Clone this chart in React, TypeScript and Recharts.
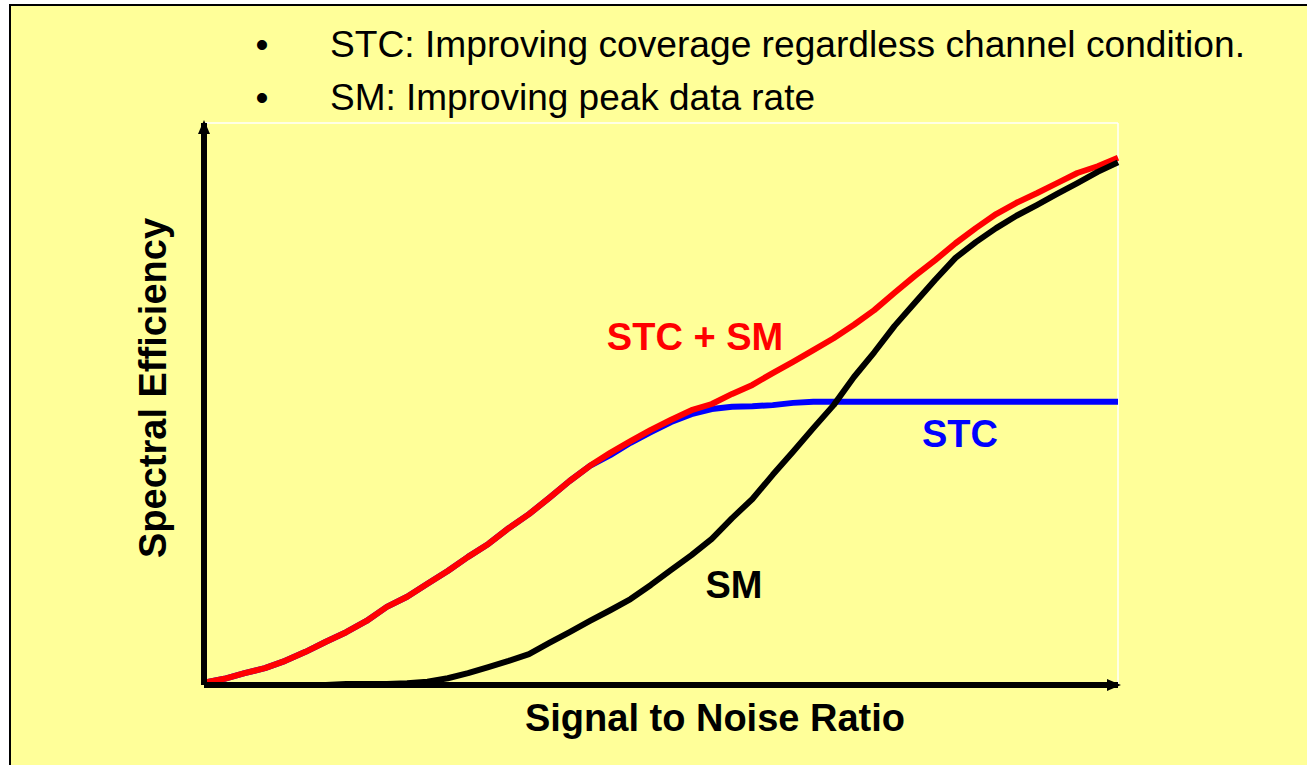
import React from 'react';
import { LineChart, Line, XAxis, YAxis, ReferenceLine } from 'recharts';

const snr = [
  0, 1, 2, 3, 4, 5, 6, 7, 8, 9, 10, 11, 12, 13, 14, 15, 16, 17, 18, 19, 20, 21, 22,
  23, 24, 25, 26, 27, 28, 29, 30, 31, 32, 33, 34, 35, 36, 37, 38, 39, 40, 41, 42, 43, 44, 45,
];

const stcSm = [
  0.04, 0.11, 0.21, 0.3, 0.43, 0.59, 0.77, 0.94, 1.14, 1.39, 1.57, 1.8, 2.03, 2.28, 2.51,
  2.79, 3.04, 3.33, 3.63, 3.9, 4.13, 4.34, 4.54, 4.72, 4.89, 5.0, 5.18, 5.34, 5.55, 5.75,
  5.96, 6.17, 6.41, 6.67, 6.98, 7.28, 7.56, 7.86, 8.13, 8.38, 8.58, 8.75, 8.93, 9.11, 9.23, 9.38,
];

const stc = [
  0.04, 0.11, 0.21, 0.3, 0.43, 0.59, 0.77, 0.94, 1.14, 1.39, 1.57, 1.8, 2.03, 2.28, 2.51,
  2.79, 3.04, 3.33, 3.63, 3.9, 4.09, 4.31, 4.5, 4.68, 4.82, 4.91, 4.95, 4.96, 4.98, 5.02,
  5.04, 5.04, 5.04, 5.04, 5.04, 5.04, 5.04, 5.04, 5.04, 5.04, 5.04, 5.04, 5.04, 5.04, 5.04, 5.04,
];

const sm = [
  0, 0, 0, 0, 0, 0, 0, 0.02, 0.02, 0.02, 0.03, 0.06, 0.12, 0.21, 0.32, 0.43, 0.55, 0.75,
  0.94, 1.14, 1.33, 1.53, 1.78, 2.05, 2.31, 2.6, 2.97, 3.31, 3.74, 4.15, 4.57, 4.98, 5.48,
  5.92, 6.39, 6.8, 7.21, 7.6, 7.88, 8.13, 8.35, 8.54, 8.74, 8.93, 9.13, 9.3,
];

const bullets = [
  'STC: Improving coverage regardless channel condition.',
  'SM: Improving peak data rate',
];

const data = snr.map((x, i) => ({ snr: x, stcSm: stcSm[i], stc: stc[i], sm: sm[i] }));

const font = '"Liberation Sans", Arial, sans-serif';

export default function App() {
  return (
    <div style={{ position: 'absolute', left: 0, top: 0, width: 1307, height: 765, overflow: 'hidden', background: '#fff' }}>
      <div
        style={{
          position: 'absolute',
          left: 9,
          top: 4,
          width: 1400,
          height: 900,
          border: '2px solid #000',
          background: '#FFFF99',
        }}
      />
      <svg width={0} height={0} style={{ position: 'absolute' }}>
        <defs>
          <marker
            id="arrow"
            markerUnits="userSpaceOnUse"
            markerWidth={14}
            markerHeight={12}
            viewBox="0 0 14 12"
            refX={11}
            refY={6}
            orient="auto-start-reverse"
          >
            <path d="M0,0 L14,6 L0,12 z" fill="#000" />
          </marker>
        </defs>
      </svg>
      <div style={{ position: 'absolute', left: 0, top: 0 }}>
        <LineChart width={1307} height={765} data={data} margin={{ top: 123, right: 189, bottom: 79, left: 203 }}>
          {/* thin white frame on the top and right edges of the plot */}
          <ReferenceLine y={10} stroke="#fff" strokeWidth={1.5} ifOverflow="visible" />
          <ReferenceLine x={45} stroke="#fff" strokeWidth={1.5} ifOverflow="visible" />
          <XAxis
            dataKey="snr"
            type="number"
            domain={[0, 45]}
            height={1}
            tick={false}
            tickLine={false}
            axisLine={{ stroke: '#000', strokeWidth: 6, markerEnd: 'url(#arrow)' }}
          />
          <YAxis
            type="number"
            domain={[0, 10]}
            width={1}
            tick={false}
            tickLine={false}
            axisLine={{ stroke: '#000', strokeWidth: 6, markerStart: 'url(#arrow)' }}
          />
          <Line type="linear" dataKey="stc" stroke="#0000FF" strokeWidth={6} dot={false} isAnimationActive={false} strokeLinejoin="round" />
          <Line type="linear" dataKey="stcSm" stroke="#FF0000" strokeWidth={6} dot={false} isAnimationActive={false} strokeLinejoin="round" />
          <Line type="linear" dataKey="sm" stroke="#000000" strokeWidth={6} dot={false} isAnimationActive={false} strokeLinejoin="round" />
        </LineChart>
      </div>
      <svg width={1307} height={765} style={{ position: 'absolute', left: 0, top: 0, pointerEvents: 'none' }} fontFamily={font}>
        <text x={262} y={57} fontSize={37} textAnchor="middle">•</text>
        <text x={330} y={57} fontSize={37} textLength={915} lengthAdjust="spacingAndGlyphs">{bullets[0]}</text>
        <text x={262} y={110} fontSize={37} textAnchor="middle">•</text>
        <text x={330} y={110} fontSize={37} textLength={485} lengthAdjust="spacingAndGlyphs">{bullets[1]}</text>
        <text
          x={0}
          y={0}
          fontSize={38}
          fontWeight="bold"
          textAnchor="middle"
          transform="translate(166,388) rotate(-90)"
        >
          Spectral Efficiency
        </text>
        <text x={715} y={731} fontSize={38} fontWeight="bold" textAnchor="middle">Signal to Noise Ratio</text>
        <text x={695} y={350} fontSize={38} fontWeight="bold" textAnchor="middle" fill="#FF0000">STC + SM</text>
        <text x={960} y={447} fontSize={38} fontWeight="bold" textAnchor="middle" fill="#0000FF">STC</text>
        <text x={734} y={598} fontSize={38} fontWeight="bold" textAnchor="middle" fill="#000">SM</text>
      </svg>
    </div>
  );
}
